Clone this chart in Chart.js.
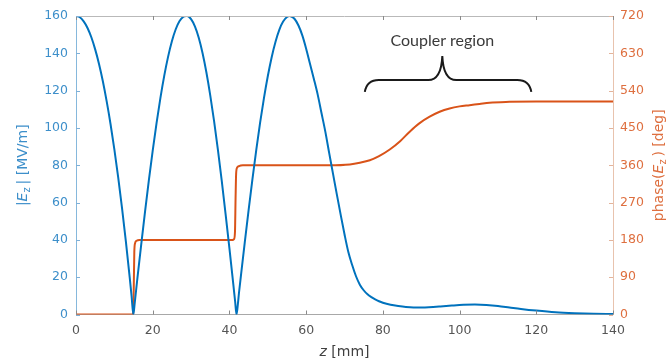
<!DOCTYPE html>
<html><head><meta charset="utf-8">
<script src="https://cdn.jsdelivr.net/npm/chart.js@4/dist/chart.umd.min.js"></script>
<style>html,body{margin:0;padding:0;background:#fff}#wrap{width:672px;height:362px}</style>
</head><body><div id="wrap"><canvas id="c" width="672" height="362"></canvas></div>
<script>
// |E_z| [MV/m] vs z [mm]
const zField = [0,1,2,3,4,5,6,7,8,9,10,11,12,13,14,14.5,14.95,
  15.3,16,17,18,19,20,21,22,23,24,25,26,27,28,28.7,29,30,31,32,33,34,35,36,37,38,39,40,41,41.5,41.85,
  42.2,42.5,43,44,45,46,47,48,49,50,51,52,53,54,55,55.7,56,57,58,59,60,61,62,63,64,65,66,67,68,69,70,71,72,73,
  74,75,76,77,78,79,80,82,84,86,88,90,92,95,98,101,104,107,110,113,116,120,125,130,135,140];
const eField = [160,159.3,157.1,153.6,148.6,142.1,134.3,125.0,114.2,102.1,88.5,73.5,57.0,39.2,19.9,9.7,0,
  6,19.3,37.4,55.1,72.0,87.8,102.6,116.0,127.9,138.1,146.5,152.9,157.3,159.6,160,160,158.3,154.4,148.3,140.0,129.7,117.5,103.6,88.2,71.6,53.8,35.4,16.4,6.7,0,
  5.5,11.8,20.8,38.6,56.0,72.6,88.3,102.8,116.0,127.7,137.8,146.1,152.6,157.0,159.5,160,159.8,158.4,154.9,149.6,142.5,134.4,126.4,118,108,98,86.6,75.5,64.4,53.5,43,33.5,26.5,20.5,
  16.0,13.0,10.8,9.3,8.1,7.1,6.3,5.2,4.5,4.0,3.8,3.8,3.9,4.3,4.8,5.2,5.3,5.1,4.6,3.8,3.0,2.1,1.2,0.7,0.4,0.3];
// phase(E_z) [deg] vs z [mm]
const zPhase = [0,14.6,14.9,15.05,15.2,15.4,15.8,16.5,40.8,41.2,41.45,41.6,41.75,42.0,42.5,43.5,
  66,71.4,74,76.6,79,81.8,84.5,87,89.5,92.2,94.8,97.4,100,102.6,105.2,107.8,113,120,130,140];
const phaseDeg = [0,0,3,60,150,172,178,180,180,182,200,280,340,354,358,360,
  360,362,366,372,382,398,418,441,461,477,489,497,502,505,508,511,513,514,514,514];
const xTickStep = 20, leftTickStep = 20, rightTickStep = 90;
const xRange = [0,140], leftRange = [0,160], rightRange = [0,720];
const annotationLabel = 'Coupler region';

const BLUE = '#0072BD', ORANGE = '#D95319';
const BLUE_T = '#3d8fca', ORANGE_T = '#de6f3f';
const FONT = 'DejaVu Sans';

function drawRich(ctx, segs, size) {
  const fontOf = s => (s==='i' ? 'italic ' : '') + (s==='s' ? Math.round(size*0.7) : size) + 'px ' + FONT;
  let total = 0;
  segs.forEach(([t,s]) => { ctx.font = fontOf(s); total += ctx.measureText(t).width; });
  let x = -total/2;
  ctx.textAlign = 'left'; ctx.textBaseline = 'middle';
  segs.forEach(([t,s]) => { ctx.font = fontOf(s); ctx.fillText(t, x, s==='s' ? size*0.3 : 0); x += ctx.measureText(t).width; });
}

const decor = {
  id: 'decor',
  afterDraw(chart) {
    const {ctx, chartArea: a, scales: {x, y, y2}} = chart;
    ctx.save();
    ctx.lineWidth = 1;
    ctx.strokeStyle = '#b9b9b9';
    ctx.beginPath(); ctx.moveTo(a.left, a.top + 0.5); ctx.lineTo(a.right, a.top + 0.5); ctx.stroke();
    ctx.strokeStyle = '#8a8a8a';
    x.ticks.forEach(t => {
      const px = Math.round(x.getPixelForValue(t.value)) + 0.5;
      ctx.beginPath(); ctx.moveTo(px, a.bottom); ctx.lineTo(px, a.bottom - 4);
      ctx.moveTo(px, a.top); ctx.lineTo(px, a.top + 4); ctx.stroke();
    });
    ctx.strokeStyle = '#7fb0d8';
    y.ticks.forEach(t => {
      const py = Math.round(y.getPixelForValue(t.value)) + 0.5;
      ctx.beginPath(); ctx.moveTo(a.left, py); ctx.lineTo(a.left + 4, py); ctx.stroke();
    });
    ctx.strokeStyle = '#e3b49c';
    y2.ticks.forEach(t => {
      const py = Math.round(y2.getPixelForValue(t.value)) + 0.5;
      ctx.beginPath(); ctx.moveTo(a.right, py); ctx.lineTo(a.right - 4, py); ctx.stroke();
    });
    const cy = (a.top + a.bottom) / 2;
    ctx.fillStyle = BLUE_T;
    ctx.save(); ctx.translate(23, cy); ctx.rotate(-Math.PI/2);
    drawRich(ctx, [['|','n'],['E','i'],['z','s'],['\u2009| [MV/m]','n']], 14);
    ctx.restore();
    ctx.fillStyle = ORANGE_T;
    ctx.save(); ctx.translate(659, cy); ctx.rotate(-Math.PI/2);
    drawRich(ctx, [['phase(','n'],['E','i'],['z','s'],['\u2009) [deg]','n']], 14);
    ctx.restore();
    ctx.fillStyle = '#404040';
    ctx.save(); ctx.translate((a.left + a.right)/2, 352);
    drawRich(ctx, [['z','i'],[' [mm]','n']], 14);
    ctx.restore();
    const xL = x.getPixelForValue(75.3), xR = x.getPixelForValue(118.7), xM = x.getPixelForValue(95.5);
    const yE = y.getPixelForValue(119.3), yA = y.getPixelForValue(125.7), yT = y.getPixelForValue(138.6);
    ctx.strokeStyle = '#1a1a1a'; ctx.lineWidth = 2;
    ctx.beginPath();
    ctx.moveTo(xL, yE);
    ctx.quadraticCurveTo(xL + 2, yA, xL + 14, yA);
    ctx.lineTo(xM - 14, yA);
    ctx.quadraticCurveTo(xM - 1, yA, xM, yT);
    ctx.quadraticCurveTo(xM + 1, yA, xM + 14, yA);
    ctx.lineTo(xR - 14, yA);
    ctx.quadraticCurveTo(xR - 2, yA, xR, yE);
    ctx.stroke();
    ctx.fillStyle = '#3a3a3a';
    ctx.font = '16px Lato';
    ctx.textAlign = 'center'; ctx.textBaseline = 'middle';
    ctx.fillText(annotationLabel, xM, y.getPixelForValue(146.5));
    ctx.restore();
  }
};

const tickFont = {family: FONT, size: 12.5};
new Chart(document.getElementById('c'), {
  type: 'line',
  data: {
    datasets: [
      {label: '|Ez|', data: zField.map((z,i)=>({x:z, y:eField[i]})), yAxisID: 'y',
       borderColor: BLUE, borderWidth: 2, pointRadius: 0, cubicInterpolationMode: 'monotone', fill: false},
      {label: 'phase', data: zPhase.map((z,i)=>({x:z, y:phaseDeg[i]})), yAxisID: 'y2',
       borderColor: ORANGE, borderWidth: 2, pointRadius: 0, cubicInterpolationMode: 'monotone', fill: false}
    ]
  },
  options: {
    responsive: false, animation: false, devicePixelRatio: 1,
    layout: {padding: {top: 16, left: 0, right: 0, bottom: 0}},
    plugins: {legend: {display: false}, tooltip: {enabled: false}},
    scales: {
      x: {type: 'linear', min: xRange[0], max: xRange[1],
          ticks: {stepSize: xTickStep, color: '#555', font: tickFont, padding: 9, maxRotation: 0},
          grid: {display: false, drawTicks: false},
          border: {display: true, color: '#a8a8a8', width: 1},
          afterFit: s => { s.height = 47.5; }},
      y: {position: 'left', min: leftRange[0], max: leftRange[1],
          ticks: {stepSize: leftTickStep, color: BLUE_T, font: tickFont, padding: 8},
          grid: {display: false, drawTicks: false},
          border: {display: true, color: '#86b8dc', width: 1},
          afterFit: s => { s.width = 76; }},
      y2: {position: 'right', min: rightRange[0], max: rightRange[1],
          ticks: {stepSize: rightTickStep, color: ORANGE_T, font: tickFont, padding: 7},
          grid: {display: false, drawTicks: false},
          border: {display: true, color: '#e8c3ae', width: 1},
          afterFit: s => { s.width = 59; }}
    }
  },
  plugins: [decor]
});
</script></body></html>
